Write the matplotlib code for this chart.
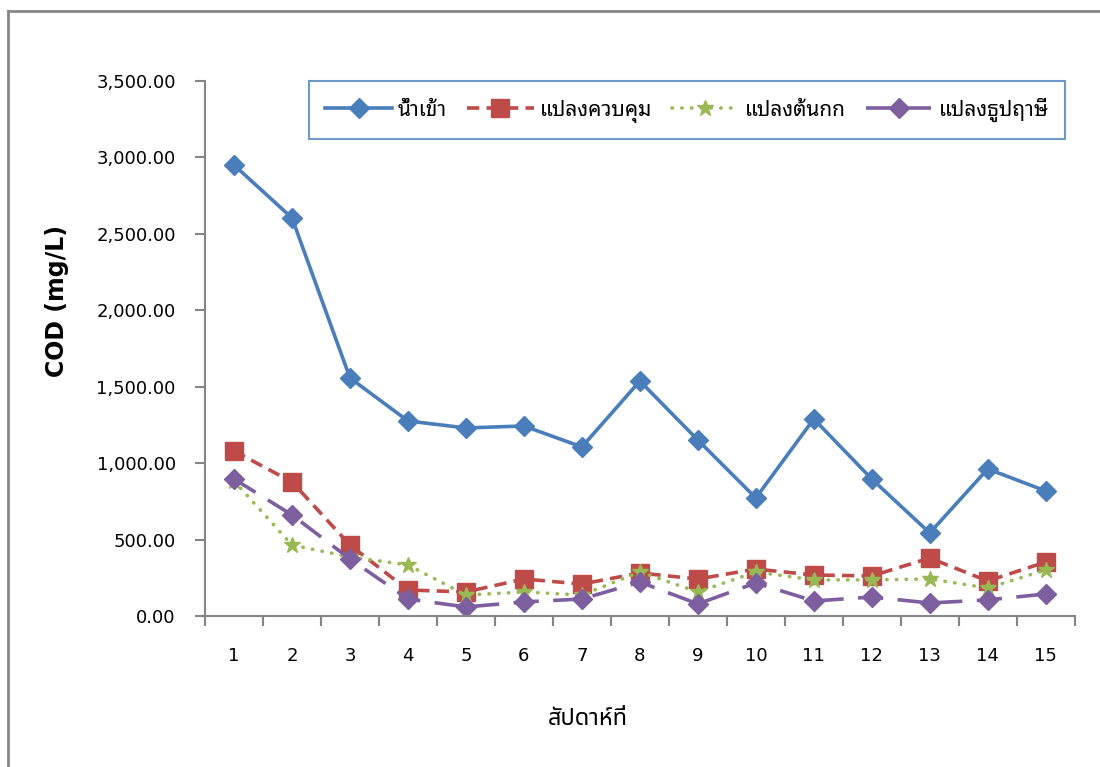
import matplotlib
matplotlib.use('Agg')
import matplotlib.pyplot as plt
from matplotlib.lines import Line2D
from matplotlib.ticker import FuncFormatter, FixedLocator

# ตัวเลขใช้ DejaVu Sans, ภาษาไทยใช้ Noto Sans Thai
plt.rcParams['font.family'] = ['DejaVu Sans', 'Noto Sans Thai']

# ข้อมูล COD รายสัปดาห์
weeks = list(range(1, 16))
influent = [2950, 2604, 1557, 1276, 1230, 1243, 1106, 1537, 1151, 772, 1289, 896, 543, 962, 818]
control = [1079, 877, 464, 170, 157, 242, 209, 281, 242, 307, 268, 262, 379, 229, 353]
sedge = [883, 464, 386, 334, 137, 157, 137, 288, 157, 288, 236, 236, 242, 183, 301]
vetiver = [896, 661, 373, 111, 59, 92, 111, 222, 79, 216, 98, 124, 85, 105, 144]

labels = ['น้ำเข้า', 'แปลงควบคุม', 'แปลงต้นกก', 'แปลงธูปฤาษี']
y_ticks = [0, 500, 1000, 1500, 2000, 2500, 3000, 3500]

fig = plt.figure(figsize=(11, 7.67), dpi=100)
ax = fig.add_axes([0.1864, 0.1969, 0.7906, 0.6975])

ax.plot(weeks, influent, color='#4a7ebb', lw=2.6, marker='D', ms=10, label=labels[0])
ax.plot(weeks, control, color='#be4b48', lw=2.6, ls=(0, (3.4, 2)), marker='s', ms=13, label=labels[1])
ax.plot(weeks, sedge, color='#98b954', lw=2.6, ls=(0, (0.1, 2.6)), dash_capstyle='round',
        marker='*', ms=12, label=labels[2])
ax.plot(weeks, vetiver, color='#7d5fa0', lw=2.6, ls=(0, (7, 4)), marker='D', ms=10, label=labels[3])

ax.set_xlim(0.5, 15.5)
ax.set_ylim(0, 3500)
ax.xaxis.set_major_locator(FixedLocator([w - 0.5 for w in weeks] + [15.5]))
ax.xaxis.set_major_formatter(FuncFormatter(lambda v, p: ''))
ax.xaxis.set_minor_locator(FixedLocator(weeks))
ax.xaxis.set_minor_formatter(FuncFormatter(lambda v, p: '%d' % round(v)))
ax.tick_params(axis='x', which='major', length=7, width=1.5, color='#868686', direction='out')
ax.tick_params(axis='x', which='minor', length=0, labelsize=13, pad=22)
ax.set_yticks(y_ticks)
ax.yaxis.set_major_formatter(FuncFormatter(lambda v, p: '{:,.2f}'.format(v)))
ax.tick_params(axis='y', length=7, width=1.5, color='#868686', labelsize=13, pad=14)

for s in ['top', 'right']:
    ax.spines[s].set_visible(False)
for s in ['left', 'bottom']:
    ax.spines[s].set_color('#868686')
    ax.spines[s].set_linewidth(1.5)

ax.set_ylabel('COD (mg/L)', fontsize=17, fontweight='bold')
ax.yaxis.set_label_coords(-0.157, 0.589)
ax.set_xlabel('สัปดาห์ที่', fontsize=17, fontweight='bold',
              family=['Noto Sans Thai', 'DejaVu Sans'])
ax.xaxis.set_label_coords(0.44, -0.171)

leg = ax.legend(loc='upper right', bbox_to_anchor=(0.989, 1.0), ncol=4,
                prop={'family': ['Noto Sans Thai Looped', 'DejaVu Sans'], 'size': 15},
                frameon=True, fancybox=False, handlelength=3.2, handletextpad=0.3,
                borderpad=0.8, columnspacing=0.95, borderaxespad=0)
leg.get_frame().set_edgecolor('#4a7ebb')
leg.get_frame().set_linewidth(1.5)

# กรอบนอกของแผนภูมิ
fig.add_artist(Line2D([8 / 1100, 8 / 1100], [0, 1 - 11 / 767], transform=fig.transFigure,
                      color='#868686', lw=2))
fig.add_artist(Line2D([8 / 1100, 1], [1 - 11 / 767, 1 - 11 / 767], transform=fig.transFigure,
                      color='#868686', lw=2))

fig.savefig('out.png', dpi=100)
